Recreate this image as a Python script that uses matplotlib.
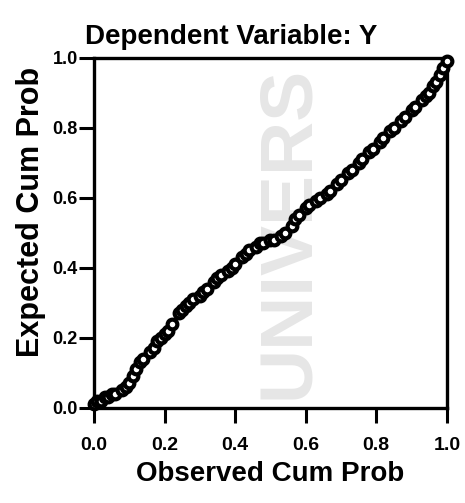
import numpy as np
import matplotlib.pyplot as plt

# Nilai P-P plot
observed = [0.00, 0.01, 0.02, 0.03, 0.04, 0.05, 0.06, 0.08, 0.09, 0.10,
            0.11, 0.12, 0.13, 0.14, 0.16, 0.17, 0.18, 0.19, 0.20, 0.21,
            0.22, 0.24, 0.25, 0.26, 0.27, 0.28, 0.30, 0.31, 0.32, 0.34,
            0.35, 0.36, 0.38, 0.39, 0.40, 0.42, 0.43, 0.44, 0.46, 0.47,
            0.48, 0.50, 0.51, 0.53, 0.54, 0.56, 0.57, 0.58, 0.60, 0.61,
            0.63, 0.64, 0.66, 0.67, 0.69, 0.70, 0.72, 0.73, 0.75, 0.76,
            0.78, 0.79, 0.81, 0.82, 0.84, 0.85, 0.87, 0.88, 0.90, 0.91,
            0.93, 0.94, 0.95, 0.96, 0.97, 0.98, 0.99, 1.00]
expected = [0.01, 0.02, 0.02, 0.03, 0.03, 0.04, 0.04, 0.05, 0.06, 0.07,
            0.09, 0.11, 0.13, 0.14, 0.16, 0.17, 0.19, 0.20, 0.21, 0.22,
            0.24, 0.27, 0.28, 0.29, 0.30, 0.31, 0.32, 0.33, 0.34, 0.36,
            0.37, 0.38, 0.39, 0.40, 0.41, 0.43, 0.44, 0.45, 0.46, 0.47,
            0.47, 0.48, 0.48, 0.49, 0.50, 0.52, 0.54, 0.55, 0.57, 0.58,
            0.59, 0.60, 0.61, 0.62, 0.64, 0.65, 0.67, 0.68, 0.70, 0.71,
            0.73, 0.74, 0.76, 0.77, 0.79, 0.80, 0.82, 0.83, 0.85, 0.86,
            0.88, 0.89, 0.90, 0.92, 0.93, 0.95, 0.97, 0.99]
ticks = [0.0, 0.2, 0.4, 0.6, 0.8, 1.0]

plt.rcParams['font.family'] = ['Liberation Sans', 'DejaVu Sans']
plt.rcParams['font.weight'] = 'bold'

fig = plt.figure(figsize=(4.65, 5.03), dpi=100)
ax = fig.add_axes([0.202, 0.189, 0.759, 0.696])

# watermark samar di latar belakang (hasil scan), di belakang titik
ax.text(0.55, 0.5, "UNIVERS", rotation=90, fontsize=54, color='#e6e6e6',
        ha='center', va='center', fontweight='bold', zorder=0,
        transform=ax.transAxes)

ax.plot(observed, expected, linestyle='none', marker='o', markersize=7,
        markerfacecolor='white', markeredgecolor='black', markeredgewidth=3,
        zorder=3, clip_on=False)

ax.set_xlim(0, 1)
ax.set_ylim(0, 1)
ax.set_xticks(ticks)
ax.set_yticks(ticks)
ax.set_xticklabels([f"{t:.1f}" for t in ticks], fontsize=14, fontweight='bold')
ax.set_yticklabels([f"{t:.1f}" for t in ticks], fontsize=13, fontweight='bold')
ax.tick_params(direction='out', length=11, width=2.2)
ax.tick_params(axis='x', pad=10)
ax.tick_params(axis='y', pad=0.5)
for s in ax.spines.values():
    s.set_linewidth(2.4)

ax.set_title("Dependent Variable: Y", fontsize=20, fontweight='bold',
             pad=10, x=0.39)
ax.set_xlabel("Observed Cum Prob", fontsize=20, fontweight='bold', labelpad=5)
ax.set_ylabel("Expected Cum Prob", fontsize=22, fontweight='bold')
ax.yaxis.set_label_coords(-0.137, 0.56)

plt.savefig("out.png", dpi=100)
